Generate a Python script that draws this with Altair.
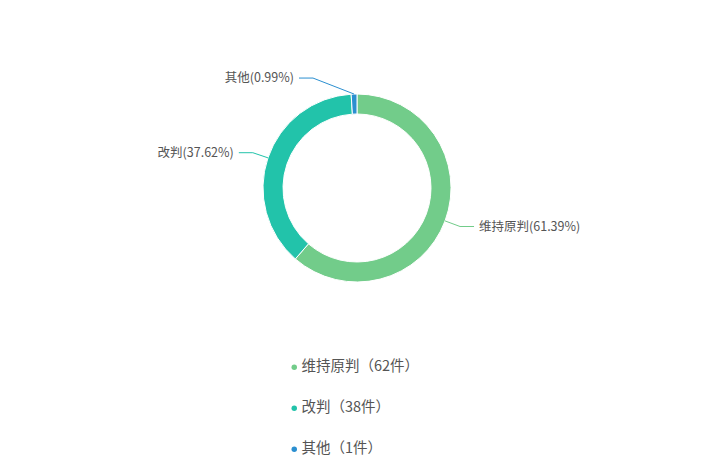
import altair as alt
import pandas as pd

names = ["维持原判", "改判", "其他"]
counts = [62, 38, 1]
colors = ["#72cc8a", "#22c3aa", "#2b8fd0"]

df = pd.DataFrame({"name": names, "count": counts, "idx": list(range(len(names)))})
df["legend_label"] = [f"{n}（{c}件）" for n, c in zip(names, counts)]
legend_domain = list(df["legend_label"])

FONT = "Noto Sans CJK SC"
R_OUT, R_IN = 94, 74
R_ELBOW, MIN_DX, L2, GAP = 110, 44, 14, 5

base = alt.Chart(df).transform_joinaggregate(
    total="sum(count)"
).transform_window(
    cum="sum(count)", sort=[alt.SortField("idx")], frame=[None, 0]
).transform_calculate(
    a="2*PI*(datum.cum - datum.count/2)/datum.total",
    sgn="sin(datum.a) >= 0 ? 1 : -1",
    x0=f"{R_OUT}*sin(datum.a)",
    y0=f"-{R_OUT}*cos(datum.a)",
    xe=f"datum.sgn*max(abs({R_ELBOW}*sin(datum.a)), {MIN_DX})",
    ye=f"-{R_ELBOW}*cos(datum.a)",
    xend=f"datum.xe + datum.sgn*{L2}",
    xt=f"datum.xend + datum.sgn*{GAP}",
    label="datum.name + '(' + format(datum.count/datum.total*100, '.2f') + '%)'",
)

xs = alt.Scale(domain=[-349, 349], nice=False, zero=False)
ys = alt.Scale(domain=[-180, 180], nice=False, zero=False, reverse=True)

arcs = alt.Chart(df).mark_arc(
    outerRadius=R_OUT, innerRadius=R_IN, stroke="white", strokeWidth=1
).encode(
    theta=alt.Theta("count:Q", stack=True),
    order=alt.Order("idx:Q"),
    color=alt.Color(
        "legend_label:N",
        scale=alt.Scale(domain=legend_domain, range=colors),
        sort=legend_domain,
        legend=alt.Legend(
            title=None, orient="none", legendX=279, legendY=352,
            direction="vertical", symbolType="circle", symbolSize=30,
            symbolStrokeWidth=0, labelFont=FONT, labelFontSize=14.5,
            labelColor="#555555", rowPadding=26, labelOffset=0, padding=0,
        ),
    ),
)

stroke_enc = alt.Stroke(
    "name:N", scale=alt.Scale(domain=names, range=colors), legend=None
)

seg1 = base.mark_rule(strokeWidth=1).encode(
    x=alt.X("x0:Q", scale=xs, axis=None),
    y=alt.Y("y0:Q", scale=ys, axis=None),
    x2="xe:Q", y2="ye:Q",
    stroke=stroke_enc,
)
seg2 = base.mark_rule(strokeWidth=1).encode(
    x=alt.X("xe:Q", scale=xs, axis=None),
    y=alt.Y("ye:Q", scale=ys, axis=None),
    x2="xend:Q", y2="ye:Q",
    stroke=stroke_enc,
)

def text_layer(side, align):
    return base.transform_filter(f"datum.sgn == {side}").mark_text(
        align=align, baseline="middle", font=FONT, fontSize=12.5, color="#555555"
    ).encode(
        x=alt.X("xt:Q", scale=xs, axis=None),
        y=alt.Y("ye:Q", scale=ys, axis=None),
        text="label:N",
    )

chart = alt.layer(
    arcs, seg1, seg2, text_layer(1, "left"), text_layer(-1, "right")
).properties(
    width=698, height=360,
    padding={"left": 0, "right": 0, "top": 0, "bottom": 96},
    autosize=alt.AutoSizeParams(type="none"),
).configure(
    background="white", view=alt.ViewConfig(stroke=None)
)

chart.save("out.html", embed_options={"renderer": "svg", "actions": False})
